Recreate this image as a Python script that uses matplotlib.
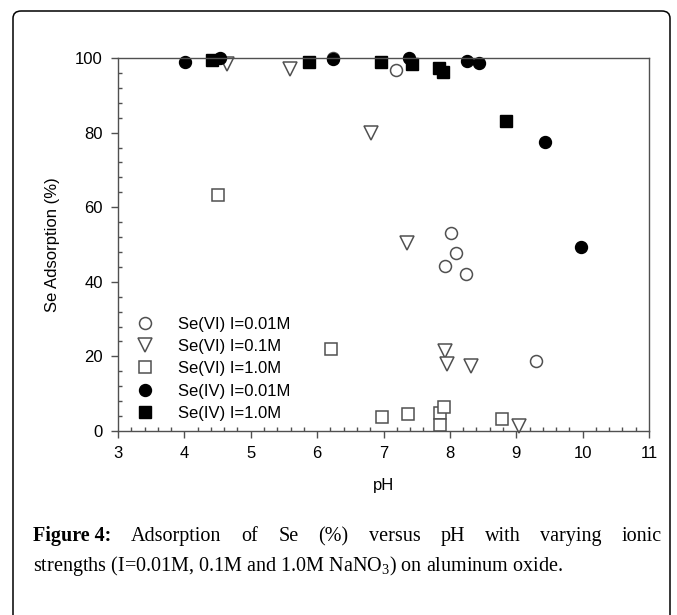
import matplotlib.pyplot as plt
from matplotlib.ticker import MultipleLocator
from matplotlib.patches import FancyBboxPatch

plt.rcParams['font.family'] = ['Liberation Sans', 'DejaVu Sans']
plt.rcParams['mathtext.fontset'] = 'custom'
plt.rcParams['mathtext.rm'] = 'Liberation Serif'
plt.rcParams['mathtext.it'] = 'Liberation Serif'

# Se(VI) I=0.01M
vi001_ph = [6.24, 7.19, 7.92, 8.02, 8.09, 8.24, 9.30]
vi001_ads = [100.0, 96.8, 44.3, 53.0, 47.8, 42.0, 18.8]
# Se(VI) I=0.1M
vi01_ph = [4.64, 5.59, 6.81, 7.35, 7.92, 7.95, 8.32, 9.04]
vi01_ads = [98.5, 97.0, 80.0, 50.3, 21.5, 18.0, 17.5, 1.3]
# Se(VI) I=1.0M
vi10_ph = [4.51, 6.21, 6.98, 7.37, 7.85, 7.91, 7.85, 8.78]
vi10_ads = [63.4, 22.0, 3.8, 4.6, 4.8, 6.5, 1.6, 3.2]
# Se(IV) I=0.01M
iv001_ph = [4.01, 4.54, 6.24, 7.38, 8.26, 8.44, 9.43, 9.97]
iv001_ads = [99.0, 100.0, 99.7, 100.0, 99.2, 98.6, 77.4, 49.2]
# Se(IV) I=1.0M
iv10_ph = [4.42, 5.88, 6.96, 7.43, 7.83, 7.89, 8.84]
iv10_ads = [99.5, 99.0, 98.9, 98.4, 97.3, 96.2, 83.0]

W, H = 677, 615
fig = plt.figure(figsize=(W / 100, H / 100), dpi=100)

# outer rounded frame
frame = FancyBboxPatch((13 / W, -0.05), (670 - 13) / W, 1 - 11 / H + 0.05,
                       boxstyle="round,pad=0,rounding_size=0.012",
                       transform=fig.transFigure, fill=False,
                       edgecolor='black', linewidth=1.1)
fig.patches.append(frame)

ax = fig.add_axes([118 / W, 1 - 431 / H, (649 - 118) / W, (431 - 58) / H])

grey = '#505050'
ms = 8.6
fs = 12
ax.plot(vi001_ph, vi001_ads, 'o', mfc='white', mec=grey, mew=1.1, ms=ms,
        clip_on=False, label='Se(VI) I=0.01M')
ax.plot(vi01_ph, vi01_ads, 'v', mfc='white', mec=grey, mew=1.1, ms=ms + 0.8,
        clip_on=False, label='Se(VI) I=0.1M')
ax.plot(vi10_ph, vi10_ads, 's', mfc='white', mec=grey, mew=1.1, ms=ms - 0.6,
        clip_on=False, label='Se(VI) I=1.0M')
ax.plot(iv001_ph, iv001_ads, 'o', mfc='black', mec='black', ms=ms,
        clip_on=False, label='Se(IV) I=0.01M')
ax.plot(iv10_ph, iv10_ads, 's', mfc='black', mec='black', ms=ms - 0.6,
        clip_on=False, label='Se(IV) I=1.0M')

ax.set_xlim(3, 11)
ax.set_ylim(0, 100)
ax.xaxis.set_major_locator(MultipleLocator(1))
ax.xaxis.set_minor_locator(MultipleLocator(0.2))
ax.yaxis.set_major_locator(MultipleLocator(20))
ax.yaxis.set_minor_locator(MultipleLocator(4))
ax.tick_params(which='major', direction='out', length=5, width=1, color=grey,
               labelsize=fs, pad=6)
ax.tick_params(which='minor', direction='in', length=3, width=1, color=grey)
for s in ax.spines.values():
    s.set_color(grey)
    s.set_linewidth(1.0)

ax.set_xlabel('pH', fontsize=fs, labelpad=12)
ax.set_ylabel('Se Adsorption (%)', fontsize=fs, labelpad=11)

ax.legend(loc='lower left', bbox_to_anchor=(0.0, 0.0), frameon=False,
          fontsize=fs, handletextpad=1.0, labelspacing=0.44, borderaxespad=0.2)

# caption, first line justified
fig.canvas.draw()
r = fig.canvas.get_renderer()
x0, x1 = 33 / W, 662 / W
y1, y2 = 1 - 541 / H, 1 - 571 / H
words = ['Figure 4:', 'Adsorption', 'of', 'Se', '(%)', 'versus', 'pH', 'with',
         'varying', 'ionic']
tx = []
for i, w in enumerate(words):
    t = fig.text(0, y1, w, fontsize=14.5, family='Liberation Serif',
                 fontweight='bold' if i == 0 else 'normal', va='baseline')
    tx.append(t)
widths = [t.get_window_extent(r).width / W for t in tx]
gap = (x1 - x0 - sum(widths)) / (len(words) - 1)
x = x0
for t, wd in zip(tx, widths):
    t.set_x(x)
    x += wd + gap
fig.text(x0, y2, 'strengths (I=0.01M, 0.1M and 1.0M NaNO$_3$) on aluminum oxide.',
         fontsize=14.5, family='Liberation Serif', va='baseline')

fig.savefig('out.png', dpi=100)
